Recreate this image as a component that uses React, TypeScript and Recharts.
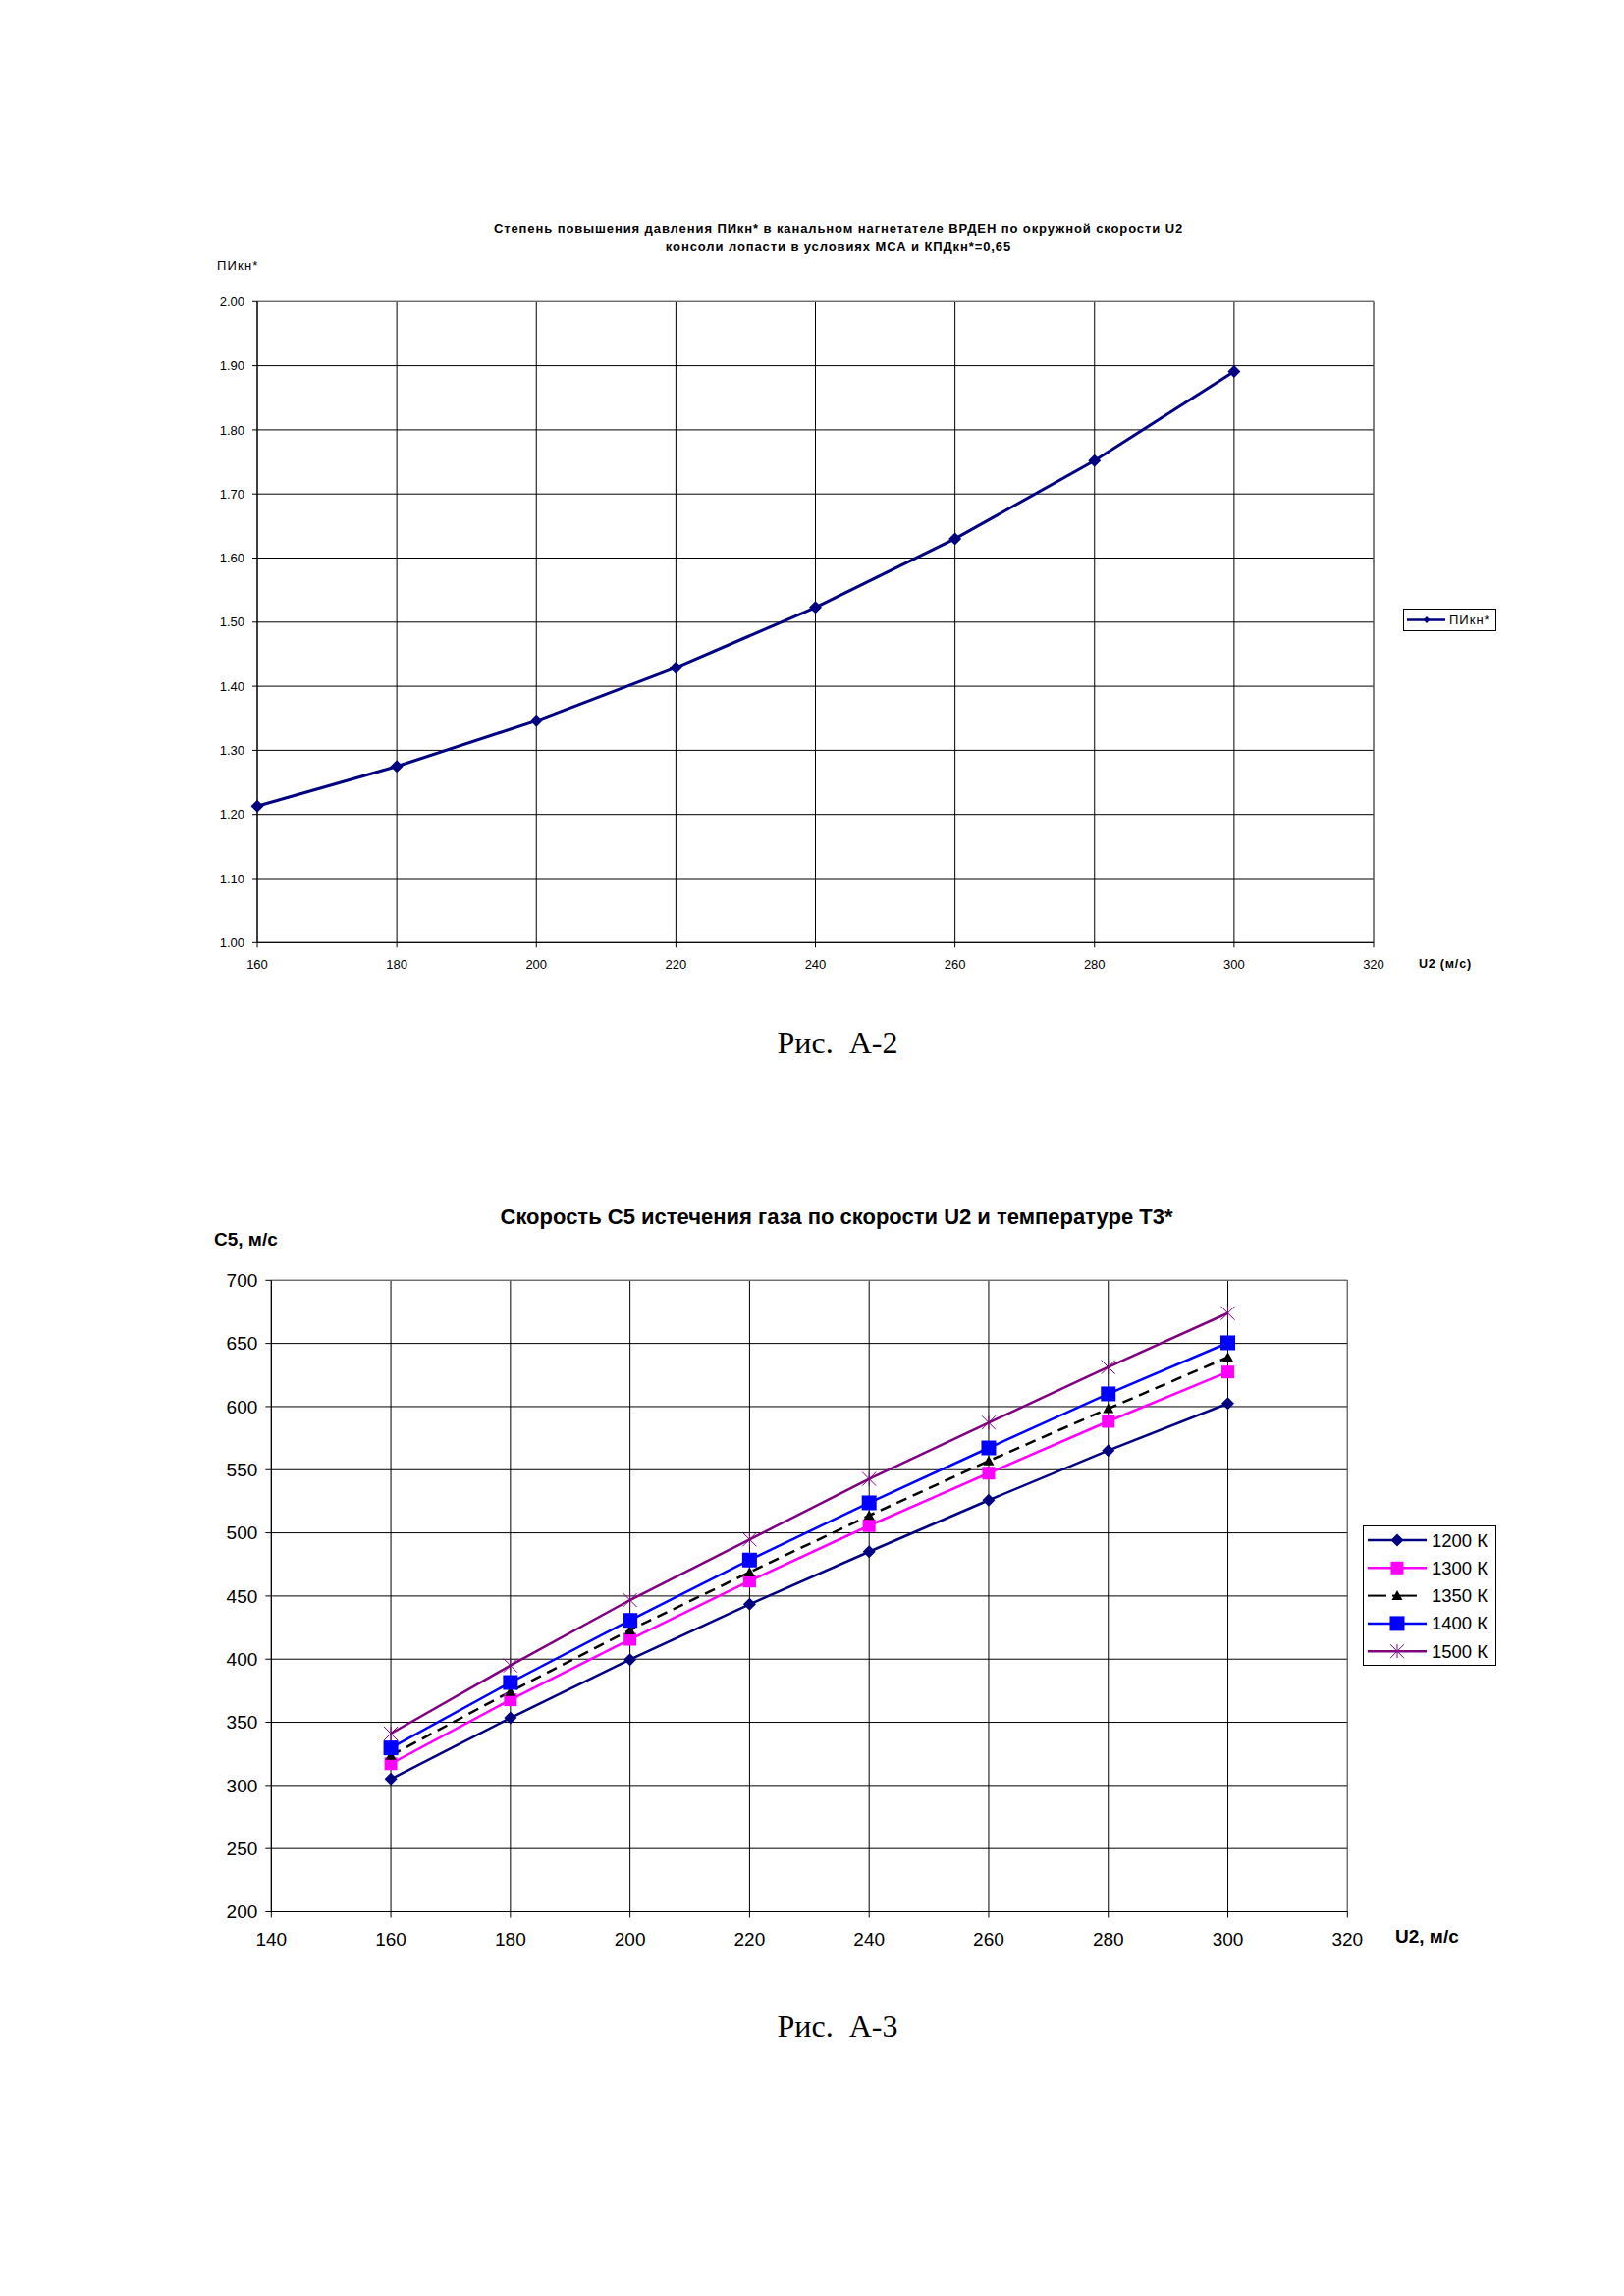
import React from 'react';
import { LineChart, Line, XAxis, YAxis, CartesianGrid, ReferenceLine } from 'recharts';

const FONT = 'Arial, "Liberation Sans", sans-serif';
const SERIF = '"Times New Roman", "Liberation Serif", serif';

// Рис. А-2: ПИкн* по U2
const u2Top = [160, 180, 200, 220, 240, 260, 280, 300];
const piKn = [1.213, 1.275, 1.346, 1.429, 1.523, 1.63, 1.752, 1.891];
const topXTicks = [160, 180, 200, 220, 240, 260, 280, 300, 320];
const topYTicks = [1.0, 1.1, 1.2, 1.3, 1.4, 1.5, 1.6, 1.7, 1.8, 1.9, 2.0];

// Рис. А-3: C5 по U2 и T3*
const u2Bottom = [160, 180, 200, 220, 240, 260, 280, 300];
const c5T1200 = [305.1, 353.5, 399.6, 443.5, 485.1, 525.9, 565.2, 602.5];
const c5T1300 = [317.2, 367.8, 415.7, 461.8, 505.7, 547.3, 588.3, 627.4];
const c5T1350 = [323.7, 374.3, 423.0, 468.8, 513.7, 557.0, 598.4, 639.1];
const c5T1400 = [329.7, 381.5, 430.7, 478.5, 523.8, 567.3, 610.1, 650.5];
const c5T1500 = [341.1, 395.0, 446.8, 494.8, 542.7, 587.3, 631.3, 674.0];
const bottomXTicks = [140, 160, 180, 200, 220, 240, 260, 280, 300, 320];
const bottomYTicks = [200, 250, 300, 350, 400, 450, 500, 550, 600, 650, 700];

const topData = u2Top.map((u, i) => ({ u, pi: piKn[i] }));
const bottomData = u2Bottom.map((u, i) => ({
  u,
  t1200: c5T1200[i],
  t1300: c5T1300[i],
  t1350: c5T1350[i],
  t1400: c5T1400[i],
  t1500: c5T1500[i],
}));

type MarkerKind = 'diamond' | 'square' | 'triangle' | 'star';

const series = [
  { key: 't1200', name: '1200 К', color: '#000080', marker: 'diamond' as MarkerKind, size: 6.5, dashed: false },
  { key: 't1300', name: '1300 К', color: '#FF00FF', marker: 'square' as MarkerKind, size: 6.5, dashed: false },
  { key: 't1350', name: '1350 К', color: '#000000', marker: 'triangle' as MarkerKind, size: 5.5, dashed: true },
  { key: 't1400', name: '1400 К', color: '#0000FF', marker: 'square' as MarkerKind, size: 7.5, dashed: false },
  { key: 't1500', name: '1500 К', color: '#800080', marker: 'star' as MarkerKind, size: 7, dashed: false },
];

const Marker = ({ kind, cx, cy, r, color }: { kind: MarkerKind; cx: number; cy: number; r: number; color: string }) => {
  if (kind === 'diamond') {
    return <polygon points={`${cx},${cy - r} ${cx + r},${cy} ${cx},${cy + r} ${cx - r},${cy}`} fill={color} />;
  }
  if (kind === 'square') {
    return <rect x={cx - r} y={cy - r} width={r * 2} height={r * 2} fill={color} />;
  }
  if (kind === 'triangle') {
    return <polygon points={`${cx},${cy - r} ${cx + r},${cy + r * 0.8} ${cx - r},${cy + r * 0.8}`} fill={color} />;
  }
  return (
    <g stroke={color} strokeWidth={1}>
      <line x1={cx - r} y1={cy - r} x2={cx + r} y2={cy + r} />
      <line x1={cx - r} y1={cy + r} x2={cx + r} y2={cy - r} />
      <line x1={cx} y1={cy - r} x2={cx} y2={cy + r} />
    </g>
  );
};

const abs = (left: number, top: number, extra: React.CSSProperties = {}): React.CSSProperties => ({
  position: 'absolute',
  left,
  top,
  whiteSpace: 'nowrap',
  lineHeight: 1,
  fontFamily: FONT,
  color: '#000',
  ...extra,
});

const App: React.FC = () => {
  return (
    <div style={{ position: 'absolute', left: 0, top: 0, width: 1654, height: 2339, background: '#fff' }}>
      {/* ---------- Рис. А-2 ---------- */}
      <div
        style={abs(854, 223, {
          transform: 'translateX(-50%)',
          fontSize: 13,
          fontWeight: 'bold',
          textAlign: 'center',
          lineHeight: '19px',
          letterSpacing: '0.9px',
        })}
      >
        Степень повышения давления ПИкн* в канальном нагнетателе ВРДЕН по окружной скорости U2
        <br />
        консоли лопасти в условиях МСА и КПДкн*=0,65
      </div>
      <div style={abs(221, 264, { fontSize: 13, letterSpacing: '1.2px' })}>ПИкн*</div>
      <div style={abs(1445, 976, { fontSize: 12.5, fontWeight: 'bold', letterSpacing: '0.8px' })}>U2 (м/с)</div>

      <div style={{ position: 'absolute', left: 0, top: 0 }}>
        <LineChart width={1654} height={1020} data={topData} margin={{ top: 307.3, right: 255, bottom: 29.7, left: 202 }}>
          <CartesianGrid stroke="#000" strokeWidth={1} />
          <XAxis
            dataKey="u"
            type="number"
            domain={[160, 320]}
            ticks={topXTicks}
            interval={0}
            height={30}
            axisLine={{ stroke: '#000' }}
            tickLine={{ stroke: '#000' }}
            tickSize={5}
            tickMargin={12}
            tick={{ fill: '#000', fontSize: 13, fontFamily: FONT }}
          />
          <YAxis
            type="number"
            domain={[1, 2]}
            ticks={topYTicks}
            interval={0}
            width={60}
            axisLine={{ stroke: '#000' }}
            tickLine={{ stroke: '#000' }}
            tickSize={5}
            tickMargin={8}
            tickFormatter={(v: number) => v.toFixed(2)}
            tick={{ fill: '#000', fontSize: 13, fontFamily: FONT }}
          />
          <ReferenceLine y={2} stroke="#808080" />
          <ReferenceLine x={320} stroke="#808080" />
          <Line
            dataKey="pi"
            type="linear"
            stroke="#000080"
            strokeWidth={3}
            isAnimationActive={false}
            activeDot={false}
            dot={(p: any) => <Marker key={`pi-${p.index}`} kind="diamond" cx={p.cx} cy={p.cy} r={6.5} color="#000080" />}
          />
        </LineChart>
      </div>

      <svg style={{ position: 'absolute', left: 1429, top: 620 }} width={95} height={23}>
        <rect x={0.5} y={0.5} width={94} height={22} fill="#fff" stroke="#000" />
        <line x1={4} y1={11.5} x2={43} y2={11.5} stroke="#000080" strokeWidth={2.5} />
        <Marker kind="diamond" cx={24} cy={11.5} r={3.5} color="#000080" />
        <text x={47} y={11.5} dominantBaseline="central" fontSize={13} letterSpacing={1} fontFamily={FONT} fill="#000">
          ПИкн*
        </text>
      </svg>

      <div style={abs(853, 1046, { transform: 'translateX(-50%)', fontSize: 32, fontFamily: SERIF })}>Рис.&nbsp; А-2</div>

      {/* ---------- Рис. А-3 ---------- */}
      <div style={abs(852, 1229, { transform: 'translateX(-50%)', fontSize: 22, fontWeight: 'bold' })}>
        Скорость С5 истечения газа по скорости U2 и температуре Т3*
      </div>
      <div style={abs(218, 1253, { fontSize: 19, fontWeight: 'bold' })}>С5, м/с</div>
      <div style={abs(1421, 1963, { fontSize: 19, fontWeight: 'bold' })}>U2, м/с</div>

      <div style={{ position: 'absolute', left: 0, top: 1100 }}>
        <LineChart width={1654} height={1000} data={bottomData} margin={{ top: 204.3, right: 281.7, bottom: 122.5, left: 196.3 }}>
          <CartesianGrid stroke="#000" strokeWidth={1} />
          <XAxis
            dataKey="u"
            type="number"
            domain={[140, 320]}
            ticks={bottomXTicks}
            interval={0}
            height={30}
            axisLine={{ stroke: '#000' }}
            tickLine={{ stroke: '#000' }}
            tickSize={6}
            tickMargin={15}
            tick={{ fill: '#000', fontSize: 19, fontFamily: FONT }}
          />
          <YAxis
            type="number"
            domain={[200, 700]}
            ticks={bottomYTicks}
            interval={0}
            width={80}
            axisLine={{ stroke: '#000' }}
            tickLine={{ stroke: '#000' }}
            tickSize={6}
            tickMargin={8}
            tick={{ fill: '#000', fontSize: 19, fontFamily: FONT }}
          />
          <ReferenceLine y={700} stroke="#808080" />
          <ReferenceLine x={320} stroke="#808080" />
          {series.map((s) => (
            <Line
              key={s.key}
              dataKey={s.key}
              name={s.name}
              type="linear"
              stroke={s.color}
              strokeWidth={2.5}
              strokeDasharray={s.dashed ? '11 7' : undefined}
              isAnimationActive={false}
              activeDot={false}
              dot={(p: any) => (
                <Marker key={`${s.key}-${p.index}`} kind={s.marker} cx={p.cx} cy={p.cy} r={s.size} color={s.color} />
              )}
            />
          ))}
        </LineChart>
      </div>

      <svg style={{ position: 'absolute', left: 1388, top: 1554 }} width={136} height={143}>
        <rect x={0.5} y={0.5} width={135} height={142} fill="#fff" stroke="#000" />
        {series.map((s, i) => {
          const y = 15 + i * 28.3;
          return (
            <g key={s.key}>
              {s.dashed ? (
                <>
                  <line x1={5} y1={y} x2={24} y2={y} stroke={s.color} strokeWidth={2} />
                  <line x1={30} y1={y} x2={55} y2={y} stroke={s.color} strokeWidth={2} />
                </>
              ) : (
                <line x1={5} y1={y} x2={65} y2={y} stroke={s.color} strokeWidth={2.5} />
              )}
              <Marker kind={s.marker} cx={35} cy={y} r={s.size} color={s.color} />
              <text x={70} y={y} dominantBaseline="central" fontSize={18.5} fontFamily={FONT} fill="#000">
                {s.name}
              </text>
            </g>
          );
        })}
      </svg>

      <div style={abs(853, 2048, { transform: 'translateX(-50%)', fontSize: 32, fontFamily: SERIF })}>Рис.&nbsp; А-3</div>
    </div>
  );
};

export default App;
